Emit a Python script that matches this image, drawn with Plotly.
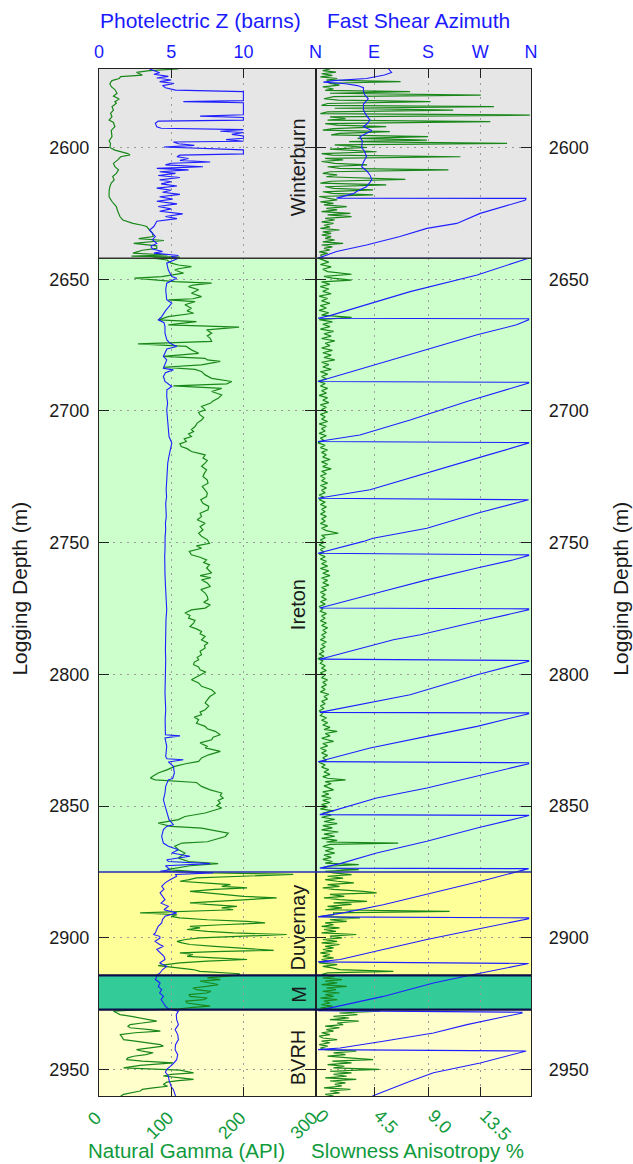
import plotly.graph_objects as go

# ---------------- data (depth m, value) ----------------
gamma_log = [
    (2570.2, 110), (2570.8, 70), (2571.5, 52), (2572.5, 60), (2573.1, 30), (2573.8, 28), (2574.6, 18),
    (2575.7, 15), (2576.9, 17), (2578.0, 22), (2579.4, 25), (2580.5, 20), (2581.6, 28), (2582.6, 22),
    (2583.2, 24), (2584.5, 18), (2585.8, 20), (2587.0, 16), (2588.3, 18), (2589.6, 14), (2590.5, 20),
    (2592.1, 22), (2593.5, 17), (2595.9, 18), (2597.5, 14), (2598.5, 16), (2600.0, 15), (2601.0, 22),
    (2602.3, 40), (2602.8, 43), (2603.5, 30), (2604.7, 26), (2606.0, 20), (2607.3, 22), (2608.5, 27),
    (2609.8, 24), (2611.0, 19), (2612.3, 21), (2613.5, 17), (2614.9, 15), (2616.5, 14), (2618.7, 14),
    (2620.5, 18), (2622.4, 24), (2624.2, 26), (2626.2, 29), (2627.5, 33), (2628.8, 47), (2629.5, 60),
    (2630.0, 66), (2631.3, 70), (2632.5, 74), (2633.8, 75), (2634.6, 55), (2635.3, 90), (2636.4, 48),
    (2637.3, 80), (2638.3, 80), (2639.0, 60), (2640.1, 47), (2640.8, 95), (2641.2, 45), (2641.6, 112),
    (2642.0, 75), (2642.7, 94), (2643.9, 100), (2644.6, 110), (2645.2, 128), (2646.0, 110), (2646.5, 105),
    (2647.7, 117), (2648.5, 100), (2649.0, 87), (2649.6, 49), (2650.3, 75), (2650.9, 105), (2651.5, 156),
    (2652.2, 130), (2652.8, 124), (2654.0, 138), (2655.3, 128), (2656.6, 142), (2657.4, 130), (2657.8, 96),
    (2658.5, 133), (2659.7, 119), (2661.0, 128), (2662.0, 122), (2662.9, 131), (2663.6, 110), (2664.2, 96),
    (2665.4, 82), (2666.1, 135), (2667.3, 96), (2668.2, 194), (2669.2, 149), (2670.5, 156), (2671.5, 150),
    (2672.4, 154), (2673.6, 156), (2674.5, 54), (2675.5, 121), (2676.8, 128), (2678.1, 138), (2679.3, 89),
    (2680.0, 147), (2680.6, 150), (2681.2, 168), (2682.5, 142), (2683.4, 89), (2684.2, 133), (2685.0, 142),
    (2686.3, 147), (2687.6, 156), (2688.8, 184), (2689.7, 177), (2690.5, 103), (2691.4, 170), (2692.6, 156),
    (2693.9, 170), (2695.2, 165), (2696.2, 158), (2697.1, 154), (2698.3, 142), (2699.6, 147), (2700.5, 138),
    (2701.5, 140), (2702.5, 145), (2703.4, 142), (2704.6, 136), (2705.9, 133), (2707.0, 128), (2707.8, 131),
    (2708.7, 124), (2709.7, 128), (2710.6, 118), (2711.6, 121), (2712.5, 112), (2713.5, 114), (2714.3, 122),
    (2715.4, 128), (2716.2, 140), (2716.7, 147), (2717.9, 144), (2718.8, 150), (2719.8, 147), (2721.0, 142),
    (2722.4, 149), (2723.6, 146), (2724.9, 144), (2726.2, 150), (2727.4, 151), (2728.6, 143), (2730.0, 147),
    (2731.2, 150), (2732.5, 149), (2733.7, 141), (2735.0, 144), (2736.2, 152), (2737.5, 151), (2738.8, 140),
    (2740.1, 142), (2741.3, 136), (2742.6, 147), (2743.9, 140), (2745.1, 144), (2746.4, 138), (2747.6, 142),
    (2748.9, 150), (2750.2, 153), (2751.2, 135), (2752.1, 142), (2753.3, 125), (2754.6, 128), (2755.5, 140),
    (2756.5, 149), (2757.5, 145), (2758.4, 153), (2759.6, 149), (2761.5, 156), (2762.5, 140), (2763.3, 155),
    (2764.1, 142), (2765.3, 150), (2766.6, 154), (2767.8, 141), (2769.1, 147), (2770.4, 150), (2771.6, 151),
    (2772.6, 145), (2773.6, 154), (2774.8, 147), (2775.5, 128), (2776.7, 119), (2777.6, 126), (2778.6, 124),
    (2779.5, 133), (2780.5, 131), (2781.8, 126), (2782.7, 135), (2783.7, 142), (2784.6, 140), (2785.6, 147),
    (2786.9, 142), (2788.1, 151), (2789.0, 146), (2790.0, 147), (2791.2, 140), (2792.5, 142), (2793.5, 136),
    (2794.4, 138), (2795.3, 132), (2796.3, 131), (2797.2, 138), (2798.2, 140), (2799.1, 148), (2800.1, 142),
    (2801.0, 135), (2802.0, 128), (2803.2, 138), (2804.5, 142), (2805.8, 156), (2807.1, 161), (2808.3, 154),
    (2809.6, 150), (2810.8, 147), (2812.0, 152), (2813.4, 147), (2814.3, 140), (2815.3, 142), (2816.2, 132),
    (2817.2, 138), (2818.5, 135), (2819.7, 147), (2820.6, 150), (2821.6, 161), (2822.9, 168), (2823.8, 158),
    (2824.8, 156), (2826.0, 140), (2827.3, 150), (2827.9, 147), (2829.2, 168), (2830.5, 152), (2831.7, 142),
    (2833.0, 138), (2833.9, 120), (2834.9, 105), (2836.2, 94), (2837.4, 82), (2838.5, 75), (2839.3, 71),
    (2840.0, 78), (2840.6, 108), (2841.0, 135), (2842.5, 142), (2843.8, 154), (2845.0, 170), (2846.0, 168),
    (2846.9, 172), (2847.8, 165), (2848.8, 168), (2849.8, 163), (2850.7, 170), (2851.6, 160), (2852.6, 147),
    (2853.9, 119), (2855.1, 110), (2856.4, 82), (2857.0, 90), (2857.7, 100), (2858.3, 142), (2859.2, 160),
    (2860.2, 179), (2861.5, 175), (2862.7, 161), (2863.5, 150), (2864.0, 115), (2865.2, 105), (2866.5, 110),
    (2867.8, 119), (2869.7, 110), (2871.0, 124), (2871.8, 165), (2872.6, 126), (2874.1, 94), (2875.3, 158),
    (2875.9, 269), (2876.6, 180), (2877.2, 135), (2877.9, 125), (2878.5, 112), (2879.2, 150), (2879.8, 182),
    (2880.4, 170), (2881.0, 205), (2881.6, 160), (2882.3, 126), (2882.9, 150), (2883.6, 182), (2884.2, 200),
    (2884.8, 246), (2885.5, 190), (2886.1, 163), (2886.7, 126), (2887.3, 150), (2888.0, 191), (2888.6, 170),
    (2889.3, 186), (2889.9, 120), (2890.5, 57), (2891.2, 108), (2891.8, 100), (2892.4, 112), (2893.1, 150),
    (2893.7, 205), (2894.3, 230), (2895.0, 170), (2895.6, 126), (2896.2, 140), (2896.8, 122), (2897.5, 150),
    (2898.1, 186), (2898.7, 260), (2899.3, 190), (2900.0, 140), (2900.6, 120), (2901.3, 108), (2901.9, 115),
    (2902.5, 126), (2903.2, 160), (2903.8, 195), (2904.7, 242), (2905.2, 160), (2905.7, 112), (2906.3, 130),
    (2907.0, 122), (2907.6, 160), (2908.2, 205), (2908.8, 150), (2909.5, 112), (2910.5, 82), (2911.4, 115),
    (2912.0, 130), (2912.7, 140), (2913.6, 195), (2914.2, 190), (2914.6, 177), (2915.2, 150), (2915.8, 168),
    (2916.4, 140), (2917.1, 154), (2917.7, 165), (2918.4, 149), (2919.0, 130), (2919.6, 135), (2920.3, 155),
    (2920.9, 149), (2921.5, 125), (2922.2, 126), (2922.8, 150), (2923.4, 145), (2924.0, 120), (2924.7, 122),
    (2925.3, 135), (2925.9, 154), (2926.4, 130), (2926.9, 112), (2927.5, 40), (2927.8, 20), (2928.5, 25),
    (2929.1, 29), (2929.8, 45), (2930.4, 57), (2931.0, 70), (2931.6, 80), (2932.3, 60), (2932.9, 43),
    (2933.5, 40), (2934.1, 43), (2934.8, 70), (2935.4, 85), (2936.0, 50), (2936.7, 29), (2937.6, 32),
    (2938.6, 34), (2939.2, 50), (2939.8, 66), (2940.5, 85), (2941.1, 89), (2941.7, 70), (2942.4, 52),
    (2943.0, 60), (2943.6, 75), (2944.3, 65), (2944.9, 48), (2945.5, 40), (2946.2, 38), (2946.8, 60),
    (2947.4, 103), (2948.4, 57), (2949.3, 34), (2950.2, 112), (2950.7, 125), (2951.2, 131), (2951.8, 100),
    (2952.4, 89), (2953.0, 110), (2953.7, 131), (2954.2, 110), (2954.7, 94), (2955.6, 89), (2956.3, 95),
    (2956.9, 75), (2957.5, 60), (2958.1, 57), (2958.8, 45), (2959.4, 34), (2960.0, 30),
]

pe_log = [
    (2570.2, 3.5), (2570.8, 3.8), (2571.6, 4.2), (2572.2, 3.8), (2573.0, 4.8), (2573.6, 4.0), (2574.4, 5.0),
    (2575.0, 4.2), (2575.7, 5.2), (2576.5, 4.4), (2577.3, 4.6), (2578.2, 5.3), (2578.8, 10.0), (2580.5, 10.0),
    (2582.2, 10.0), (2582.6, 5.84), (2583.0, 10.0), (2585.0, 10.0), (2587.6, 10.0), (2588.1, 7.0), (2588.6, 10.0),
    (2589.6, 10.0), (2590.0, 4.1), (2590.8, 3.9), (2592.1, 4.0), (2592.7, 4.3), (2593.2, 10.0), (2593.8, 8.4),
    (2594.3, 10.0), (2595.0, 9.2), (2595.6, 10.0), (2596.5, 10.0), (2597.0, 8.8), (2597.6, 10.0), (2597.9, 5.15),
    (2598.6, 5.5), (2599.2, 6.6), (2599.8, 4.5), (2600.2, 7.0), (2600.9, 10.0), (2602.4, 10.0), (2602.9, 5.6),
    (2603.5, 5.4), (2604.2, 6.2), (2604.9, 5.6), (2605.5, 7.7), (2606.0, 5.0), (2606.6, 4.6), (2607.3, 7.2),
    (2607.9, 4.0), (2608.5, 6.2), (2609.2, 4.2), (2609.8, 5.3), (2610.6, 4.1), (2611.4, 5.6), (2612.3, 4.2),
    (2613.0, 5.0), (2613.8, 4.3), (2614.6, 5.4), (2615.4, 4.0), (2616.2, 5.0), (2617.0, 4.4), (2617.8, 5.6),
    (2618.7, 4.2), (2619.6, 5.1), (2620.4, 4.0), (2621.4, 5.4), (2622.4, 4.1), (2623.3, 5.0), (2624.2, 4.2),
    (2625.2, 5.8), (2626.2, 4.6), (2627.0, 5.4), (2628.0, 4.0), (2629.0, 3.9), (2630.0, 3.8), (2631.3, 3.5),
    (2632.5, 3.7), (2633.8, 3.9), (2635.0, 3.7), (2636.4, 4.0), (2637.5, 3.6), (2638.5, 3.7), (2639.5, 4.4),
    (2640.1, 3.8), (2641.0, 5.5), (2641.4, 5.0), (2642.0, 5.5), (2643.9, 4.69), (2646.5, 4.8), (2649.0, 5.04),
    (2649.6, 5.38), (2651.5, 4.69), (2654.0, 4.62), (2657.8, 4.69), (2659.1, 5.04), (2662.0, 4.6), (2664.2, 4.34),
    (2665.4, 4.11), (2666.5, 4.5), (2668.0, 4.57), (2670.5, 4.57), (2673.0, 4.7), (2674.3, 4.92), (2675.5, 5.38),
    (2676.5, 4.7), (2679.3, 4.46), (2680.6, 4.69), (2683.8, 4.46), (2684.4, 5.15), (2685.5, 4.6), (2686.9, 4.46),
    (2688.8, 4.57), (2690.7, 5.04), (2692.0, 4.7), (2694.5, 4.69), (2697.0, 4.75), (2699.6, 4.69), (2702.0, 4.72),
    (2704.6, 4.76), (2707.0, 4.8), (2709.7, 4.85), (2712.2, 5.04), (2714.8, 4.92), (2717.0, 4.85), (2719.8, 4.76),
    (2722.5, 4.72), (2724.9, 4.7), (2727.4, 4.69), (2730.0, 4.65), (2732.5, 4.68), (2735.0, 4.62), (2737.5, 4.64),
    (2740.1, 4.66), (2742.6, 4.6), (2745.1, 4.62), (2747.6, 4.58), (2750.2, 4.6), (2752.7, 4.57), (2755.0, 4.55),
    (2759.6, 4.53), (2762.0, 4.57), (2766.0, 4.6), (2769.1, 4.62), (2772.0, 4.66), (2775.5, 4.69), (2779.0, 4.64),
    (2781.8, 4.62), (2785.0, 4.6), (2788.1, 4.57), (2791.0, 4.6), (2794.4, 4.62), (2797.5, 4.6), (2800.7, 4.62),
    (2804.0, 4.6), (2807.1, 4.57), (2810.8, 4.6), (2813.4, 4.62), (2817.0, 4.58), (2819.7, 4.57), (2822.9, 4.6),
    (2823.3, 5.61), (2824.1, 4.57), (2827.3, 4.69), (2831.1, 4.62), (2832.0, 4.7), (2832.4, 5.84), (2833.2, 4.8),
    (2834.9, 5.15), (2837.4, 5.22), (2839.5, 5.1), (2840.0, 4.8), (2842.5, 4.62), (2845.0, 4.57), (2847.6, 4.46),
    (2850.7, 4.62), (2855.1, 4.85), (2857.0, 5.15), (2857.7, 4.69), (2858.9, 4.46), (2861.5, 4.34), (2864.0, 4.46),
    (2865.2, 4.8), (2866.5, 5.5), (2867.8, 5.04), (2869.0, 6.3), (2870.3, 4.69), (2871.0, 4.8), (2871.8, 7.7),
    (2872.6, 4.6), (2874.1, 4.92), (2874.7, 4.23), (2875.3, 7.92), (2875.9, 5.3), (2876.6, 5.38), (2877.9, 4.92),
    (2879.0, 4.6), (2880.4, 4.34), (2881.5, 4.5), (2882.9, 4.23), (2884.2, 4.4), (2885.5, 4.57), (2886.8, 4.3),
    (2888.0, 4.8), (2889.3, 4.5), (2890.5, 5.38), (2891.8, 4.57), (2893.0, 4.4), (2894.3, 4.34), (2895.6, 4.1),
    (2896.8, 4.0), (2898.1, 3.9), (2898.7, 3.77), (2899.4, 4.2), (2900.0, 4.23), (2901.3, 3.88), (2902.5, 4.2),
    (2903.2, 4.46), (2904.4, 4.0), (2905.7, 4.23), (2907.0, 4.5), (2908.2, 4.57), (2909.5, 4.2), (2910.8, 4.69),
    (2912.0, 4.4), (2913.3, 4.23), (2914.2, 4.0), (2914.6, 4.0), (2915.8, 3.9), (2917.1, 4.23), (2918.4, 4.1),
    (2919.6, 4.34), (2920.9, 4.2), (2922.2, 4.46), (2923.4, 4.3), (2924.7, 4.46), (2925.9, 4.6), (2926.9, 4.8),
    (2927.8, 5.5), (2929.1, 5.35), (2931.0, 5.38), (2932.9, 5.5), (2934.8, 5.27), (2936.7, 5.45), (2938.6, 5.5),
    (2940.5, 5.3), (2942.4, 5.27), (2944.3, 5.45), (2946.2, 5.38), (2948.0, 5.1), (2949.9, 4.69), (2951.0, 4.6),
    (2952.4, 4.8), (2954.0, 4.85), (2955.0, 4.92), (2956.5, 5.0), (2957.5, 5.15), (2959.4, 5.27), (2960.0, 5.3),
]

azimuth_log = [
    (2570.2, 122), (2571.5, 127), (2572.5, 115), (2573.8, 85), (2574.6, 30), (2575.2, 13), (2575.8, 50),
    (2576.5, 70), (2577.3, 80), (2578.5, 80), (2580.0, 82), (2581.5, 88), (2583.5, 80), (2585.8, 80),
    (2587.5, 84), (2589.6, 91), (2591.0, 86), (2592.1, 80), (2593.5, 94), (2595.9, 74), (2597.5, 78),
    (2600.0, 77), (2601.5, 82), (2603.5, 85), (2605.5, 80), (2607.3, 77), (2609.0, 86), (2610.5, 91),
    (2612.3, 94), (2613.5, 90), (2614.9, 85), (2616.5, 70), (2617.5, 63), (2619.2, 35), (2619.3, 352),
    (2620.0, 350), (2625.0, 275), (2628.8, 236), (2630.7, 186), (2633.8, 141), (2637.0, 85), (2639.5, 35),
    (2641.7, 7), (2642.0, 4), (2642.1, 356), (2642.2, 353), (2648.4, 270), (2650.9, 225), (2654.7, 158),
    (2658.5, 102), (2661.7, 57), (2663.8, 24), (2664.8, 4), (2665.0, 356), (2665.4, 356), (2667.3, 336),
    (2671.1, 270), (2677.4, 175), (2682.5, 102), (2687.5, 24), (2688.8, 4), (2689.1, 356), (2689.4, 356),
    (2696.4, 253), (2703.4, 158), (2709.1, 74), (2711.6, 4), (2712.0, 356), (2712.2, 356), (2717.9, 270),
    (2723.6, 186), (2729.9, 91), (2733.1, 4), (2733.5, 356), (2733.7, 356), (2738.8, 270), (2744.5, 186),
    (2748.3, 96), (2749.5, 80), (2754.0, 4), (2754.6, 356), (2754.9, 356), (2756.5, 331), (2759.6, 270),
    (2764.1, 186), (2769.1, 102), (2774.8, 7), (2775.1, 356), (2775.5, 356), (2779.9, 270), (2784.9, 175),
    (2786.8, 130), (2794.2, 7), (2794.7, 356), (2795.0, 356), (2800.1, 270), (2807.7, 158), (2814.4, 7),
    (2814.6, 356), (2814.9, 356), (2819.7, 270), (2823.5, 186), (2827.9, 91), (2833.1, 4), (2833.5, 356),
    (2833.9, 356), (2840.6, 230), (2843.1, 186), (2846.9, 102), (2853.2, 7), (2853.5, 356), (2853.6, 356),
    (2858.3, 270), (2863.3, 186), (2867.8, 102), (2871.8, 41), (2873.5, 7), (2873.6, 356), (2873.7, 356),
    (2877.9, 286), (2882.9, 197), (2887.4, 113), (2890.5, 46), (2892.0, 4), (2892.4, 356), (2892.7, 356),
    (2897.5, 253), (2900.6, 186), (2904.4, 113), (2908.2, 41), (2909.1, 4), (2909.5, 356), (2909.7, 356),
    (2913.9, 264), (2917.1, 197), (2922.2, 113), (2925.9, 41), (2927.6, 4), (2928.2, 345), (2928.5, 345),
    (2932.9, 253), (2936.1, 197), (2939.2, 113), (2941.8, 41), (2942.4, 4), (2942.7, 352), (2942.9, 352),
    (2947.5, 275), (2951.2, 197), (2954.4, 158), (2959.4, 102), (2960.0, 95),
]

anisotropy_log = [
    (2570.2, 1.2), (2570.8, 0.6), (2571.4, 1.7), (2572.0, 0.5), (2572.6, 1.4), (2573.2, 0.4), (2573.8, 1.8),
    (2574.4, 0.9), (2575.0, 7.1), (2575.6, 1.1), (2576.3, 2.0), (2577.0, 0.6), (2577.8, 1.5), (2578.3, 0.8),
    (2578.8, 7.9), (2579.4, 1.2), (2580.1, 13.8), (2580.7, 1.5), (2581.5, 0.7), (2582.0, 1.9), (2582.6, 9.6),
    (2583.3, 1.0), (2584.0, 0.5), (2584.5, 14.9), (2585.1, 1.6), (2585.8, 11.5), (2586.5, 1.0), (2587.1, 0.4),
    (2587.7, 17.9), (2588.4, 1.2), (2589.0, 2.5), (2589.6, 1.0), (2590.2, 14.6), (2590.9, 0.8), (2591.5, 1.8),
    (2592.1, 5.9), (2592.8, 1.5), (2593.4, 0.6), (2594.0, 6.2), (2594.6, 2.0), (2595.2, 1.3), (2595.9, 9.4),
    (2596.5, 3.5), (2597.2, 9.3), (2597.8, 2.8), (2598.4, 16.0), (2599.0, 1.6), (2599.5, 3.0), (2600.0, 4.3),
    (2600.6, 1.2), (2601.6, 5.1), (2602.3, 0.5), (2602.9, 1.4), (2603.5, 12.1), (2604.1, 0.8), (2604.7, 2.3),
    (2605.3, 0.5), (2606.0, 1.6), (2606.6, 4.3), (2607.3, 1.0), (2607.9, 2.0), (2608.5, 11.1), (2609.2, 1.2),
    (2609.8, 0.6), (2610.4, 1.8), (2611.1, 0.9), (2612.1, 7.5), (2612.8, 1.3), (2613.5, 0.4), (2614.2, 5.9),
    (2614.9, 0.8), (2615.5, 1.5), (2616.1, 4.8), (2616.8, 0.6), (2617.4, 1.4), (2618.0, 4.8), (2618.6, 0.3),
    (2619.3, 1.1), (2619.9, 1.8), (2620.6, 0.4), (2621.2, 1.5), (2621.8, 0.7), (2622.4, 2.6), (2623.1, 0.9),
    (2623.7, 1.8), (2624.3, 0.5), (2625.0, 2.9), (2625.6, 1.0), (2626.2, 3.0), (2626.9, 0.8), (2627.5, 1.6),
    (2628.2, 0.5), (2628.8, 1.5), (2629.5, 0.7), (2630.1, 1.2), (2630.7, 0.4), (2631.3, 2.0), (2632.0, 0.6),
    (2632.6, 1.3), (2633.2, 0.5), (2633.8, 1.3), (2634.5, 0.8), (2635.1, 1.6), (2635.8, 0.6), (2636.4, 2.3),
    (2637.0, 0.5), (2637.7, 1.4), (2638.3, 0.7), (2638.9, 1.2), (2639.6, 0.3), (2640.2, 1.0), (2640.8, 0.4),
    (2641.4, 0.6), (2642.0, 0.2), (2642.6, 0.5), (2643.5, 1.1), (2644.4, 0.4), (2645.3, 1.3), (2646.2, 0.6),
    (2647.1, 1.0), (2648.1, 3.0), (2648.9, 0.7), (2649.6, 1.4), (2650.3, 3.0), (2651.0, 0.5), (2651.9, 1.2),
    (2652.8, 0.4), (2653.7, 1.1), (2654.6, 0.6), (2655.5, 1.3), (2656.4, 0.3), (2657.3, 1.0), (2658.2, 0.5),
    (2659.1, 1.2), (2660.0, 0.4), (2660.9, 0.9), (2661.8, 0.3), (2662.7, 1.1), (2663.6, 0.5), (2664.5, 3.0),
    (2665.3, 0.3), (2666.2, 1.4), (2667.1, 0.6), (2668.0, 1.2), (2668.9, 0.4), (2669.8, 1.5), (2670.7, 0.7),
    (2671.6, 1.3), (2672.5, 0.5), (2673.4, 1.6), (2674.3, 0.8), (2675.2, 1.2), (2676.1, 0.5), (2677.0, 1.4),
    (2677.9, 0.6), (2678.8, 1.3), (2679.7, 0.7), (2680.6, 1.6), (2681.5, 0.5), (2682.4, 1.1), (2683.3, 0.6),
    (2684.2, 1.3), (2685.1, 0.4), (2686.0, 1.0), (2686.9, 0.5), (2687.8, 0.9), (2688.7, 0.2), (2689.6, 0.8),
    (2690.5, 0.4), (2691.4, 1.0), (2692.3, 0.5), (2693.2, 0.9), (2694.1, 0.3), (2695.0, 1.0), (2695.9, 0.6),
    (2696.8, 1.1), (2697.7, 0.4), (2698.6, 0.9), (2699.5, 0.5), (2700.4, 1.0), (2701.3, 0.4), (2702.2, 0.8),
    (2703.1, 0.5), (2704.0, 1.0), (2704.9, 0.3), (2705.8, 0.9), (2706.7, 0.5), (2707.6, 0.8), (2708.5, 0.3),
    (2709.4, 0.9), (2710.3, 0.4), (2711.2, 0.7), (2712.1, 0.2), (2713.0, 0.8), (2713.9, 0.4), (2714.8, 1.0),
    (2715.7, 0.5), (2716.6, 0.9), (2717.5, 0.6), (2718.4, 1.2), (2719.3, 0.5), (2720.2, 1.0), (2721.1, 0.6),
    (2722.0, 1.3), (2722.9, 0.5), (2723.8, 0.9), (2724.7, 0.4), (2725.6, 0.8), (2726.5, 0.5), (2727.4, 1.0),
    (2728.3, 0.4), (2729.2, 0.9), (2730.1, 0.5), (2731.0, 0.8), (2731.9, 0.3), (2732.8, 0.7), (2733.7, 0.3),
    (2734.6, 0.8), (2735.5, 0.4), (2736.4, 0.9), (2737.3, 0.5), (2738.2, 0.8), (2739.1, 0.4), (2740.0, 0.9),
    (2740.9, 0.5), (2741.8, 0.8), (2742.7, 0.4), (2743.6, 1.0), (2744.5, 0.5), (2745.4, 0.9), (2746.4, 1.9),
    (2747.2, 0.5), (2748.1, 0.8), (2749.0, 0.4), (2749.9, 0.7), (2750.8, 0.3), (2751.7, 0.8), (2752.6, 0.4),
    (2753.5, 0.7), (2754.4, 0.3), (2755.3, 0.8), (2756.2, 0.4), (2757.1, 0.9), (2758.0, 0.5), (2758.9, 1.0),
    (2759.8, 0.4), (2760.7, 1.1), (2761.6, 0.6), (2762.5, 1.2), (2763.4, 0.5), (2764.3, 1.0), (2765.2, 0.6),
    (2766.1, 1.1), (2767.0, 0.5), (2767.9, 0.9), (2768.8, 0.4), (2769.7, 0.8), (2770.6, 0.5), (2771.5, 0.9),
    (2772.4, 0.4), (2773.3, 0.8), (2774.2, 0.3), (2775.1, 0.6), (2776.0, 0.4), (2776.9, 0.9), (2777.8, 0.5),
    (2778.7, 0.8), (2779.6, 0.4), (2780.5, 0.9), (2781.4, 0.5), (2782.3, 1.0), (2783.2, 0.6), (2784.1, 0.9),
    (2785.0, 0.5), (2785.9, 0.8), (2786.8, 0.4), (2787.7, 0.9), (2788.6, 0.5), (2789.5, 0.8), (2790.4, 0.4),
    (2791.3, 0.7), (2792.2, 0.3), (2793.1, 0.7), (2794.0, 0.2), (2794.9, 0.6), (2795.8, 0.4), (2796.7, 0.8),
    (2797.6, 0.5), (2798.5, 0.9), (2799.4, 0.4), (2800.3, 0.8), (2801.2, 0.5), (2802.1, 1.0), (2803.0, 0.6),
    (2803.9, 0.9), (2804.8, 0.5), (2805.7, 0.8), (2806.6, 0.4), (2807.5, 1.1), (2808.4, 0.7), (2809.3, 1.0),
    (2810.2, 0.5), (2811.1, 0.8), (2812.0, 0.4), (2812.9, 0.7), (2813.8, 0.3), (2814.7, 0.6), (2815.6, 0.4),
    (2816.5, 0.9), (2817.4, 0.5), (2818.3, 1.0), (2819.2, 0.6), (2820.1, 1.2), (2820.9, 0.7), (2821.6, 1.8),
    (2822.4, 0.8), (2823.3, 1.2), (2824.2, 0.5), (2825.4, 1.5), (2826.2, 0.6), (2827.1, 1.0), (2828.0, 0.4),
    (2828.9, 0.9), (2829.8, 0.5), (2830.7, 1.0), (2831.6, 0.6), (2832.5, 0.9), (2833.4, 0.3), (2834.3, 0.8),
    (2835.2, 0.5), (2836.1, 1.1), (2837.0, 0.7), (2837.9, 1.2), (2838.8, 0.6), (2839.4, 1.0), (2840.0, 2.5),
    (2840.7, 0.8), (2841.5, 1.3), (2842.3, 0.7), (2843.1, 1.2), (2843.8, 1.5), (2844.6, 0.6), (2845.4, 1.1),
    (2846.2, 0.5), (2847.0, 1.3), (2847.8, 0.6), (2848.6, 1.2), (2849.4, 0.5), (2850.2, 1.0), (2851.0, 0.4),
    (2851.8, 1.5), (2852.6, 0.6), (2853.4, 1.3), (2854.2, 0.5), (2855.0, 1.6), (2855.8, 0.7), (2856.6, 1.8),
    (2857.4, 0.6), (2858.2, 1.4), (2859.0, 0.5), (2859.8, 1.9), (2860.6, 0.7), (2861.4, 1.6), (2862.2, 0.5),
    (2863.0, 1.8), (2863.6, 0.9), (2864.0, 6.9), (2864.5, 1.2), (2865.3, 0.6), (2866.1, 1.5), (2866.9, 0.8),
    (2867.8, 1.6), (2868.6, 0.7), (2869.4, 1.3), (2870.2, 0.6), (2871.0, 1.4), (2871.6, 0.8), (2872.2, 3.6),
    (2872.8, 1.0), (2873.4, 0.6), (2874.1, 3.6), (2874.7, 0.8), (2875.3, 1.5), (2876.0, 3.0), (2876.6, 1.0),
    (2877.3, 2.3), (2877.9, 0.8), (2878.5, 1.8), (2879.1, 3.2), (2879.8, 1.0), (2880.4, 2.0), (2881.0, 0.6),
    (2881.6, 1.5), (2882.3, 4.0), (2882.9, 5.1), (2883.5, 1.2), (2884.2, 2.4), (2884.8, 0.7), (2885.5, 2.0),
    (2886.1, 4.3), (2886.7, 1.5), (2887.3, 3.0), (2888.0, 1.0), (2888.6, 2.2), (2889.3, 0.8), (2889.9, 11.2),
    (2890.5, 1.5), (2891.2, 1.5), (2891.8, 0.4), (2892.4, 3.7), (2893.1, 1.2), (2893.7, 2.6), (2894.3, 0.8),
    (2895.0, 1.5), (2895.6, 0.5), (2896.2, 2.0), (2896.8, 0.7), (2897.5, 1.7), (2898.1, 0.5), (2898.7, 3.4),
    (2899.3, 1.2), (2900.0, 2.2), (2900.6, 0.6), (2901.3, 1.8), (2901.9, 0.5), (2902.5, 2.0), (2903.2, 0.8),
    (2903.8, 1.5), (2904.4, 0.6), (2905.0, 1.4), (2905.7, 0.4), (2906.3, 1.2), (2907.0, 0.6), (2907.6, 1.5),
    (2908.2, 0.5), (2908.8, 1.0), (2909.5, 0.3), (2910.1, 1.8), (2910.8, 0.6), (2911.4, 1.4), (2912.0, 2.0),
    (2912.7, 6.5), (2913.3, 1.0), (2913.9, 0.5), (2914.6, 1.6), (2915.2, 0.6), (2915.8, 2.2), (2916.4, 0.8),
    (2917.1, 1.8), (2917.7, 0.5), (2918.4, 2.6), (2919.0, 0.9), (2919.6, 1.7), (2920.3, 0.6), (2920.9, 2.0),
    (2921.5, 0.8), (2922.2, 1.5), (2922.8, 0.4), (2923.4, 1.8), (2924.0, 0.7), (2924.7, 1.2), (2925.3, 0.5),
    (2925.9, 1.4), (2926.6, 0.4), (2927.2, 1.5), (2927.8, 5.4), (2928.5, 2.0), (2929.1, 3.5), (2929.8, 1.5),
    (2930.4, 2.8), (2931.0, 1.2), (2931.6, 3.6), (2932.3, 1.8), (2932.9, 2.3), (2933.5, 0.8), (2934.1, 2.0),
    (2934.8, 0.9), (2935.4, 1.5), (2936.0, 0.5), (2936.7, 1.2), (2937.3, 0.3), (2938.0, 0.6), (2938.6, 1.8),
    (2939.2, 0.5), (2939.8, 1.2), (2940.5, 0.3), (2941.1, 1.0), (2941.8, 0.4), (2942.4, 0.8), (2943.0, 3.4),
    (2943.6, 1.5), (2944.3, 2.5), (2944.9, 1.0), (2945.5, 2.8), (2946.2, 4.8), (2946.8, 1.4), (2947.4, 3.0),
    (2948.1, 1.0), (2948.7, 2.4), (2949.3, 1.5), (2949.9, 5.3), (2950.6, 1.2), (2951.2, 3.0), (2951.8, 1.5),
    (2952.5, 2.6), (2953.1, 0.8), (2953.7, 3.4), (2954.3, 1.2), (2955.0, 2.5), (2955.6, 1.6), (2956.2, 2.2),
    (2956.9, 0.7), (2957.5, 2.9), (2958.1, 1.2), (2958.8, 2.0), (2959.4, 0.8), (2960.0, 1.5),
]

zone_names = ["Winterburn", "Ireton", "Duvernay", "M", "BVRH"]
zone_top = [2570.2, 2642.0, 2875.0, 2914.2, 2927.2]
zone_base = [2642.0, 2875.0, 2914.2, 2927.2, 2960.0]
zone_colors = ["#e6e6e6", "#ccffcc", "#ffff99", "#33cc99", "#ffffcc"]
label_depth = [2607.4, 2773.6, 2895.9, 2921.5, 2945.2]
boundary_depth = [2642.0, 2875.0, 2914.2, 2927.2]
boundary_color = ["#333333", "#2a2ab0", "#0c0c4a", "#0c0c4a"]
boundary_width = [1.5, 1.5, 2.2, 2.2]

depth_ticks = [2600, 2650, 2700, 2750, 2800, 2850, 2900, 2950]
gr_ticks = [0, 100, 200, 300]
pe_ticks = [0, 5, 10]
an_tickvals = [0, 4.88, 9.4, 13.75]
an_ticktext = ["0", "4.5", "9.0", "13.5"]
az_tickvals = [0, 97.6, 188, 275, 360]
az_ticktext = ["N", "E", "S", "W", "N"]

# ---------------- figure ----------------
gr_depth = [d for d, _ in gamma_log]
gr_api = [v for _, v in gamma_log]
pe_depth = [d for d, _ in pe_log]
pe_val = [v for _, v in pe_log]
az_depth = [d for d, _ in azimuth_log]
az_val = [v for _, v in azimuth_log]
an_depth = [d for d, _ in anisotropy_log]
an_val = [v for _, v in anisotropy_log]

GREEN = "#1a871a"
BLUE = "#1f1fff"
LBL_GREEN = "#0f9a3c"
LBL_BLUE = "#1a1aff"
FONT = "Liberation Sans, Arial, sans-serif"
FRAME = "#222222"
GRID = "#9a9a9a"
GDASH = "2px,5px"

fig = go.Figure()
fig.add_trace(go.Scatter(x=gr_api, y=gr_depth, mode="lines", line=dict(color=GREEN, width=1.2),
                         xaxis="x", yaxis="y", showlegend=False))
fig.add_trace(go.Scatter(x=pe_val, y=pe_depth, mode="lines", line=dict(color=BLUE, width=1.1),
                         xaxis="x3", yaxis="y", showlegend=False))
fig.add_trace(go.Scatter(x=an_val, y=an_depth, mode="lines", line=dict(color=GREEN, width=1.2),
                         xaxis="x2", yaxis="y2", showlegend=False))
fig.add_trace(go.Scatter(x=az_val, y=az_depth, mode="lines", line=dict(color=BLUE, width=1.1),
                         xaxis="x4", yaxis="y2", showlegend=False))

shapes = []
for top, base, col in zip(zone_top, zone_base, zone_colors):
    shapes.append(dict(type="rect", xref="paper", yref="y", x0=0, x1=1, y0=top, y1=base,
                       fillcolor=col, line=dict(width=0), layer="below"))
for d, c, w in zip(boundary_depth, boundary_color, boundary_width):
    shapes.append(dict(type="line", xref="paper", yref="y", x0=0, x1=1, y0=d, y1=d,
                       line=dict(color=c, width=w), layer="above"))

annotations = []
for name, d in zip(zone_names, label_depth):
    annotations.append(dict(text=name, x=276, y=d, xref="x", yref="y", showarrow=False,
                            textangle=-90, font=dict(family=FONT, size=20, color="#1a1a1a")))

# axis titles as paper-anchored annotations
title_text = ["Photelectric Z (barns)", "Fast Shear Azimuth", "Natural Gamma (API)",
              "Slowness Anisotropy %", "Logging Depth (m)", "Logging Depth (m)"]
title_x = [0.236, 0.7407, 0.2037, 0.737, -0.183, 1.2083]
title_y = [1.0468, 1.0468, -0.0662, -0.0662, 0.494, 0.494]
title_yanchor = ["middle", "middle", "bottom", "bottom", "middle", "middle"]
title_angle = [0, 0, 0, 0, -90, -90]
title_color = [LBL_BLUE, LBL_BLUE, LBL_GREEN, LBL_GREEN, "#1a1a1a", "#1a1a1a"]
title_size = [21, 21, 20.5, 20.5, 21, 21]
for t, tx, ty, ya, ta, tc, ts in zip(title_text, title_x, title_y, title_yanchor, title_angle,
                                     title_color, title_size):
    annotations.append(dict(text=t, x=tx, y=ty, xref="paper", yref="paper", showarrow=False,
                            xanchor="center", yanchor=ya, textangle=ta,
                            font=dict(family=FONT, size=ts, color=tc)))

split = 0.5014
ymin, ymax = 2570.2, 2960.0
tickfont_k = dict(family=FONT, size=18, color="#1a1a1a")

common_x = dict(showline=True, linecolor=FRAME, linewidth=1.3, ticks="inside", ticklen=9,
                tickcolor=FRAME, tickwidth=1, zeroline=False)
common_y = dict(range=[ymax, ymin], tickvals=depth_ticks, showline=True, linecolor=FRAME, linewidth=1.3,
                ticks="inside", ticklen=10, tickcolor=FRAME, tickwidth=1, zeroline=False,
                showgrid=True, gridcolor=GRID, griddash=GDASH, gridwidth=1, tickfont=tickfont_k)

fig.update_layout(
    width=633, height=1164,
    margin=dict(l=99, r=102, t=69, b=68),
    paper_bgcolor="white", plot_bgcolor="white",
    font=dict(family=FONT),
    shapes=shapes, annotations=annotations,
    xaxis=dict(domain=[0, split], range=[0, 300], tickvals=gr_ticks, anchor="y", side="bottom",
               mirror="ticks", tickangle=-45, ticklabelshift=-3, ticklabelstandoff=3,
               tickfont=dict(family=FONT, size=18, color=LBL_GREEN),
               showgrid=True, gridcolor=GRID, griddash=GDASH, gridwidth=1, **common_x),
    xaxis3=dict(overlaying="x", range=[0, 15], tickvals=pe_ticks, anchor="y", side="top",
                ticks="", showline=False, showgrid=False, zeroline=False, ticklabelstandoff=6,
                tickfont=dict(family=FONT, size=18, color=LBL_BLUE)),
    xaxis2=dict(domain=[split, 1], range=[0, 18], tickvals=an_tickvals, ticktext=an_ticktext,
                anchor="y2", side="bottom", mirror="ticks", tickangle=45, ticklabelshift=5,
                ticklabelstandoff=1,
                tickfont=dict(family=FONT, size=18, color=LBL_GREEN),
                showgrid=True, gridcolor=GRID, griddash=GDASH, gridwidth=1, **common_x),
    xaxis4=dict(overlaying="x2", range=[0, 360], tickvals=az_tickvals, ticktext=az_ticktext,
                anchor="y2", side="top", ticks="", showline=False, showgrid=False, zeroline=False,
                ticklabelstandoff=6,
                tickfont=dict(family=FONT, size=18, color=LBL_BLUE)),
    yaxis=dict(domain=[0, 1], anchor="x", side="left", mirror="ticks", ticklabelstandoff=5, **common_y),
    yaxis2=dict(domain=[0, 1], anchor="x2", side="right", mirror="ticks", showticklabels=True,
                ticklabelstandoff=13, **common_y),
)

fig.write_html("out.html")
